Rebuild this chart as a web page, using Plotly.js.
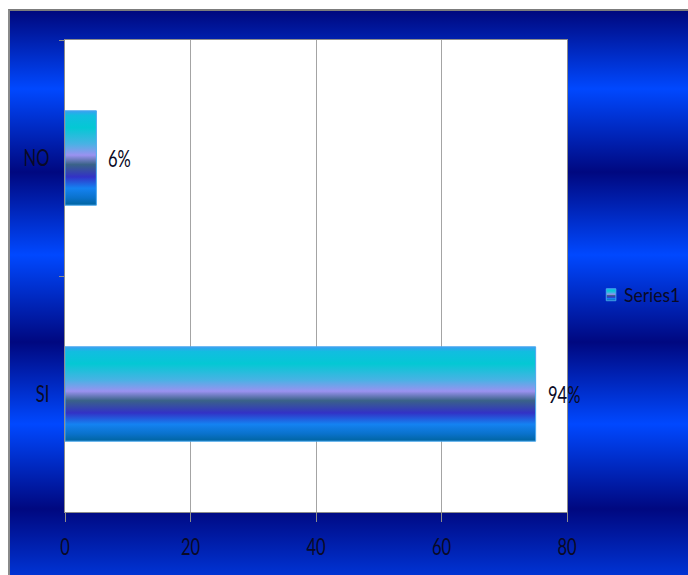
<!DOCTYPE html>
<html>
<head>
<meta charset="utf-8">
<script src="https://cdn.plot.ly/plotly-3.0.1.min.js"></script>
<style>
  html, body { margin: 0; padding: 0; background: #ffffff; }
  #stage { position: relative; width: 688px; height: 575px; overflow: hidden; }
  /* banded blue backdrop of the chart area */
  #backdrop {
    position: absolute; left: 8px; top: 9px; width: 680px; height: 566px;
    border-top: 2px solid #7c7c7c; border-left: 2px solid #8a8a8a;
    background: linear-gradient(180deg,
      #00087e 0px, #0048ff 78px, #000880 161px, #0048ff 244px,
      #000880 331px, #0048ff 413px, #000880 498px, #0044f4 590px);
  }
  #chart { position: absolute; left: 0; top: 0; width: 688px; height: 575px; }
</style>
</head>
<body>
<div id="stage">
  <div id="backdrop"></div>
  <div id="chart"></div>
</div>
<script>
// answers and their counts
const categories = ['NO', 'SI'];
const counts = [5, 75];
const seriesName = 'Series1';
const xTickValues = [0, 20, 40, 60, 80];

const total = counts.reduce((a, b) => a + b, 0);
const percentLabels = counts.map(v => Math.round(v / total * 100) + '%');

const ink = '#0a0a26';
const fontFamily = 'Lato, "Open Sans", "DejaVu Sans", sans-serif';

const trace = {
  type: 'bar',
  orientation: 'h',
  name: seriesName,
  x: counts,
  y: categories,
  marker: { color: '#2aa8e8', line: { color: '#4aa8ee', width: 1 } },
  showlegend: true,
  hoverinfo: 'skip'
};

const annotations = categories.map((c, i) => ({
  x: counts[i], y: c, xref: 'x', yref: 'y',
  text: percentLabels[i], showarrow: false,
  xanchor: 'left', yanchor: 'middle', xshift: 10,
  font: { family: fontFamily, size: 23, color: ink }
}));

const layout = {
  width: 688, height: 575,
  margin: { l: 65, r: 121, t: 40, b: 63, autoexpand: false },
  paper_bgcolor: 'rgba(0,0,0,0)',
  plot_bgcolor: '#ffffff',
  bargap: 0.6,
  font: { family: fontFamily, size: 23, color: ink },
  xaxis: {
    range: [0, 80], tickvals: xTickValues, ticktext: xTickValues.map(String),
    showgrid: true, gridcolor: '#a4a4a4', gridwidth: 1,
    showline: true, mirror: true, linecolor: '#8c8c8c', linewidth: 1,
    ticks: 'outside', ticklen: 9, tickcolor: '#8c8c8c', tickwidth: 1,
    ticklabelstandoff: 5, zeroline: false, fixedrange: true
  },
  yaxis: {
    type: 'category', autorange: 'reversed',
    showgrid: false, zeroline: false,
    showline: true, mirror: true, linecolor: '#8c8c8c', linewidth: 1,
    ticks: 'outside', tickson: 'boundaries', ticklen: 5, tickcolor: '#8c8c8c',
    ticklabelstandoff: 10, fixedrange: true
  },
  legend: {
    x: 1.034, xanchor: 'left', y: 0.46, yanchor: 'middle',
    bgcolor: 'rgba(0,0,0,0)', borderwidth: 0,
    font: { family: fontFamily, size: 19, color: ink },
    itemwidth: 30
  },
  annotations: annotations
};

// horizontally condense a group of text nodes around their anchor edge
function condense(nodes, s, mode) {
  nodes.forEach(t => {
    const bb = t.getBBox();
    let ax = bb.x;
    if (mode === 'end') ax = bb.x + bb.width;
    else if (mode === 'middle') ax = bb.x + bb.width / 2;
    const prev = t.getAttribute('transform') || '';
    t.setAttribute('transform', prev + ' translate(' + ax + ',0) scale(' + s + ',1) translate(' + (-ax) + ',0)');
  });
}

// banded shading used by the bars and the legend swatch
function addShade(gd) {
  const svg = gd.querySelector('.main-svg');
  const ns = 'http://www.w3.org/2000/svg';
  let defs = svg.querySelector('defs');
  if (!defs) { defs = document.createElementNS(ns, 'defs'); svg.insertBefore(defs, svg.firstChild); }
  const g = document.createElementNS(ns, 'linearGradient');
  g.setAttribute('id', 'barShade');
  g.setAttribute('x1', '0'); g.setAttribute('y1', '0');
  g.setAttribute('x2', '0'); g.setAttribute('y2', '1');
  const stops = [
    [0.00, '#3a9ff2'], [0.05, '#12bde0'], [0.18, '#04c8d4'],
    [0.35, '#48b2e4'], [0.47, '#9a92f0'], [0.57, '#3a6288'],
    [0.70, '#3232c6'], [0.82, '#1482f2'], [0.92, '#0a72cc'], [1.00, '#0064a0']
  ];
  stops.forEach(([o, c]) => {
    const st = document.createElementNS(ns, 'stop');
    st.setAttribute('offset', o);
    st.setAttribute('stop-color', c);
    g.appendChild(st);
  });
  defs.appendChild(g);
  gd.querySelectorAll('.bars .point path, .legendpoints path').forEach(p => {
    p.style.fill = 'url(#barShade)';
  });
  // slimmer swatch sitting closer to its label
  gd.querySelectorAll('.legendpoints').forEach(lp => {
    lp.setAttribute('transform', 'translate(11,0) scale(0.8,1)');
  });
}

const gd = document.getElementById('chart');
Plotly.newPlot(gd, [trace], layout, { staticPlot: true, displayModeBar: false }).then(() => {
  addShade(gd);
  condense(gd.querySelectorAll('.xtick text'), 0.72, 'middle');
  condense(gd.querySelectorAll('.ytick text'), 0.72, 'end');
  condense(gd.querySelectorAll('.annotation-text'), 0.72, 'start');
  condense(gd.querySelectorAll('.legendtext'), 0.92, 'start');
});
</script>
</body>
</html>
